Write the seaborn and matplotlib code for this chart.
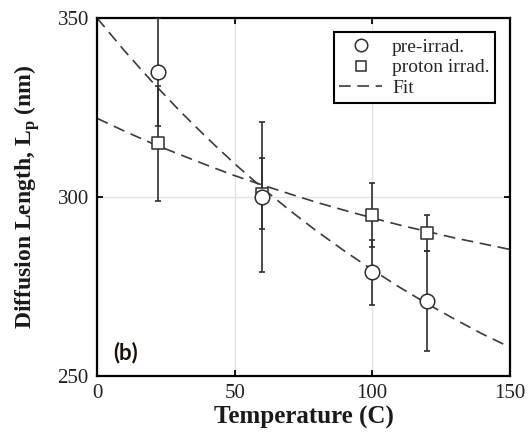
import matplotlib
matplotlib.use('Agg')
import matplotlib.pyplot as plt
import seaborn as sns
import pandas as pd
from matplotlib.lines import Line2D

temps = [22, 60, 100, 120]
pre_L = [335, 300, 279, 271]
pre_err = [15, 21, 9, 14]
pro_L = [315, 301, 295, 290]
pro_err = [16, 10, 9, 5]

# courbes de fit (points lus le long des tirets)
fit_T = [0, 10, 20, 30, 40, 50, 60, 70, 80, 90, 100, 110, 120, 130, 140, 150]
fit_pre = [350, 340.8, 332.2, 324.1, 316.5, 309.3, 302.6, 296.3, 290.4, 284.9,
           279.7, 274.8, 270.2, 265.9, 261.8, 258.1]
fit_pro = [322, 318.4, 315.0, 311.9, 308.9, 306.0, 303.4, 300.9, 298.5, 296.3,
           294.2, 292.2, 290.4, 288.6, 287.0, 285.4]

sns.set_theme(style="ticks")
plt.rcParams['font.family'] = ['Liberation Serif', 'DejaVu Serif']
plt.rcParams['mathtext.fontset'] = 'custom'
plt.rcParams['mathtext.rm'] = 'Liberation Serif'
plt.rcParams['mathtext.bf'] = 'Liberation Serif:bold'

fig = plt.figure(figsize=(5.31, 4.42), dpi=100)
ax = fig.add_axes([0.183, 0.149, 0.777, 0.810])

dark = '#2e2e2e'
dash = (0, (7, 4))
fit_df = pd.DataFrame({'T': fit_T * 2, 'L': fit_pre + fit_pro,
                       'serie': ['pre'] * len(fit_T) + ['pro'] * len(fit_T)})
sns.lineplot(data=fit_df, x='T', y='L', units='serie', estimator=None,
             color='#3a3a3a', lw=1.2, dashes=False, ax=ax, zorder=2)
for line in ax.get_lines():
    line.set_linestyle(dash)

# barres d'erreur
ax.errorbar(temps, pre_L, yerr=pre_err, fmt='none', ecolor=dark, elinewidth=1.2,
            capsize=2.5, capthick=1.2, zorder=3)
ax.errorbar(temps, pro_L, yerr=pro_err, fmt='none', ecolor=dark, elinewidth=1.2,
            capsize=2.5, capthick=1.2, zorder=3)

sns.scatterplot(x=temps, y=pro_L, marker='s', s=75, facecolor='white',
                edgecolor=dark, linewidth=1.1, ax=ax, zorder=4)
sns.scatterplot(x=temps, y=pre_L, marker='o', s=110, facecolor='white',
                edgecolor=dark, linewidth=1.1, ax=ax, zorder=5)

ax.set_xlim(0, 150)
ax.set_ylim(250, 350)
ax.set_xticks([0, 50, 100, 150])
ax.set_yticks([250, 300, 350])
ax.grid(True, color='#e3e3e3', lw=1.0)
ax.set_axisbelow(True)
ax.tick_params(direction='in', top=True, right=True, length=4, width=1.3,
               labelsize=15, colors='black', labelcolor='#222222', pad=6)
for s in ax.spines.values():
    s.set_linewidth(1.6)
    s.set_color('black')

ax.set_xlabel('Temperature (C)', fontsize=18, fontweight='bold', labelpad=2,
              color='#1a1a1a')
ax.set_ylabel(r'Diffusion Length, L$_{\mathbf{p}}$ (nm)', fontsize=17,
              fontweight='bold', labelpad=11, color='#1a1a1a')

handles = [
    Line2D([], [], marker='o', ls='none', mfc='white', mec=dark, ms=9, mew=1.1),
    Line2D([], [], marker='s', ls='none', mfc='white', mec=dark, ms=7, mew=1.1),
    Line2D([], [], color='#3a3a3a', ls=dash, lw=1.2),
]
leg = ax.legend(handles, ['pre-irrad.', 'proton irrad.', 'Fit'], loc='upper right',
                bbox_to_anchor=(0.965, 0.96), fontsize=14, fancybox=False,
                framealpha=1, edgecolor='black', handlelength=2.2,
                handletextpad=0.5, borderpad=0.3, labelspacing=0.15,
                borderaxespad=0)
leg.get_frame().set_linewidth(1.5)

ax.text(0.038, 0.035, '(b)', transform=ax.transAxes, fontsize=16, va='bottom',
        fontweight='bold', family=['Lato', 'DejaVu Sans'], color='#1a1208')

fig.savefig('out.png', dpi=100)
